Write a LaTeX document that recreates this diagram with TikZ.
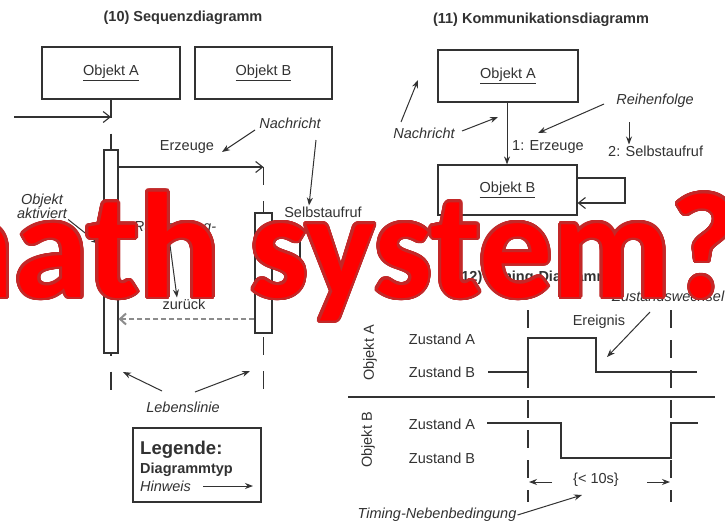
\documentclass[tikz,border=0pt]{standalone}
\usepackage{fontspec}
\setmainfont{Liberation Sans}
\newfontfamily\redfont{Carlito}
\usepackage[copies]{contour}
\contourlength{2.8pt}
\contournumber{40}
\usetikzlibrary{arrows.meta}
\definecolor{ink}{RGB}{50,50,50}
\definecolor{redfill}{RGB}{255,0,0}
\definecolor{redline}{RGB}{195,40,40}
\tikzset{
  objbox/.style={draw=ink, line width=1.2pt, minimum width=138pt, minimum height=52pt, inner sep=0pt, text=ink},
  actbox/.style={draw=ink, fill=white, line width=1.1pt, minimum width=14pt, inner sep=0pt},
  lbl/.style={text=ink, inner sep=1pt},
  hint/.style={lbl, font=\fontsize{14.5}{17}\selectfont\itshape},
  ttl/.style={lbl, font=\fontsize{14.5}{17}\selectfont\bfseries},
  msg/.style={draw=ink, line width=1.1pt, -{Straight Barb[length=7pt,width=11pt]}},
  ptr/.style={draw=ink, line width=1pt, -{Stealth[length=8pt,width=6pt]}},
  life/.style={draw=ink, line width=1.1pt, dash pattern=on 18pt off 16pt},
  ret/.style={draw=black!45, line width=2pt, dash pattern=on 5pt off 3pt, -{Straight Barb[length=6pt,width=11pt]}},
  sig/.style={draw=ink, line width=1.3pt},
  tdash/.style={draw=ink, line width=1.1pt, dash pattern=on 18pt off 12pt},
  ovltext/.style={inner sep=0pt, font=\fontsize{150}{150}\redfont\bfseries},
}
\begin{document}
\begin{tikzpicture}[x=1pt, y=-1pt, font=\fontsize{14.5}{17}\selectfont]
\useasboundingbox (0,0) rectangle (725,522);
\fill[white] (0,0) rectangle (725,522);

% ---------------- (10) Sequenzdiagramm ----------------
\node[ttl] (t10) at (183,18) {(10) Sequenzdiagramm};
\node[objbox] (sA) at (111,73) {\underline{Objekt A}};
\node[objbox, minimum width=137pt] (sB) at (263.5,73) {\underline{Objekt B}};
\coordinate (lAend) at (111,392);
\coordinate (lBtop) at (263.5,167);
\coordinate (lBend) at (263.5,392);
\coordinate (inA) at (111,117);
\coordinate (inS) at (14,117);
\draw[life] (sA.south) -- (lAend);
\draw[life] (lBtop) -- (lBend);
\node[actbox, minimum height=203pt] (actA) at (111,251.5) {};
\node[actbox, minimum width=17pt, minimum height=120pt] (actB) at (263.5,273) {};
\draw[msg] (inS) -- (inA);
\draw[msg] (actA.east |- lBtop) -- (lBtop);
\coordinate (sc1) at (300,238);
\coordinate (sc2) at (300,262);
\draw[msg] (actB.east |- sc1) -- (sc1) -- (sc2) -- (actB.east |- sc2);
\coordinate (rety) at (0,319);
\draw[ret] (actB.west |- rety) -- (actA.east |- rety);

\node[lbl] (erz) at (187,147) {Erzeuge};
\node[hint] (nach1) at (290,123) {Nachricht};
\coordinate (n1a) at (255,130);
\coordinate (n1at) at (222,152);
\coordinate (n1b) at (316,140);
\draw[ptr] (n1a) -- (n1at);
\node[lbl] (selbst1) at (323,212) {Selbstaufruf};
\draw[ptr] (n1b) -- (selbst1.north -| 309,0);
\node[hint, align=center] (aktiv) at (42,206) {Objekt\\[-3pt]aktiviert};
\coordinate (aktt) at (99,244);
\draw[ptr] (aktiv.south east) -- (aktt);
\node[hint] (rueck) at (175,228) {Rücksprung-};
\node[lbl] (zur) at (184,304) {zurück};
\coordinate (rs) at (170,245);
\draw[ptr] (rs) -- (zur.north -| 177,0);
\node[hint] (leben) at (183,407) {Lebenslinie};
\coordinate (lebL) at (123,372);
\coordinate (lebR) at (250,371);
\coordinate (lebLs) at (162,391);
\coordinate (lebRs) at (195,392);
\draw[ptr] (lebLs) -- (lebL);
\draw[ptr] (lebRs) -- (lebR);

% Legend
\node[draw=ink, line width=1.6pt, minimum width=128pt, minimum height=74pt, inner sep=0pt] (leg) at (197,465) {};
\node[lbl, anchor=base west, font=\fontsize{18.5}{20}\selectfont\bfseries] (legt) at (139,454) {Legende:};
\node[lbl, anchor=base west, font=\fontsize{14.5}{17}\selectfont\bfseries] (legd) at (139,473) {Diagrammtyp};
\node[hint, anchor=base west] (legh) at (139,491) {Hinweis};
\coordinate (legarr) at (253,486);
\coordinate (legas) at (203,486);
\draw[ptr] (legas) -- (legarr);

% ---------------- (11) Kommunikationsdiagramm ----------------
\node[ttl] (t11) at (541,20) {(11) Kommunikationsdiagramm};
\node[objbox, minimum width=140pt] (cA) at (508,76) {\underline{Objekt A}};
\node[objbox, minimum width=139pt, minimum height=50pt] (cB) at (507.5,190) {\underline{Objekt B}};
\draw[ptr] (cA.south -| 507,0) -- (cB.north -| 507,0);
\coordinate (cl1) at (625,178);
\coordinate (cl2) at (625,203);
\draw[msg] (cB.east |- cl1) -- (cl1) -- (cl2) -- (cB.east |- cl2);
\node[lbl, anchor=west] (c1) at (511,147) {1: Erzeuge};
\node[lbl, anchor=west] (c2) at (607,151) {2: Selbstaufruf};
\node[hint] (reihe) at (655,101) {Reihenfolge};
\coordinate (r1s) at (604,104);
\coordinate (r1t) at (538,133);
\draw[ptr] (r1s) -- (r1t);
\coordinate (r2s) at (629,122);
\draw[ptr] (r2s) -- (c2.north -| 629,0);
\node[hint] (nach2) at (424,133) {Nachricht};
\coordinate (n2a) at (401,122);
\coordinate (n2at) at (418,80);
\coordinate (n2b) at (462,131);
\coordinate (n2bt) at (498,117);
\draw[ptr] (n2a) -- (n2at);
\draw[ptr] (n2b) -- (n2bt);

% ---------------- (12) Timing-Diagramm ----------------
\node[ttl] (t12) at (533,278) {(12) Timing-Diagramm};
\node[hint, anchor=west] (zw) at (611,296) {Zustandswechsel};
\coordinate (zws) at (650,312);
\coordinate (zwt) at (607,357);
\draw[ptr] (zws) -- (zwt);
\node[lbl] (ereig) at (599,322) {Ereignis};
\node[lbl, rotate=90] (oA) at (370,353) {Objekt A};
\node[lbl] (zAa) at (442,339) {Zustand A};
\node[lbl] (zAb) at (442,372) {Zustand B};
\node[lbl, rotate=90] (oB) at (368,440) {Objekt B};
\node[lbl] (zBa) at (442,424) {Zustand A};
\node[lbl] (zBb) at (442,458) {Zustand B};
\draw[tdash] (528,310) -- (528,502);
\draw[tdash] (671,310) -- (671,502);
\draw[sig] (488,372) -- (528,372) -- (528,338) -- (596,338) -- (596,372) -- (697,372);
\draw[ink, line width=1.8pt] (348,397) -- (715,397);
\draw[sig] (487,423) -- (561,423) -- (561,458) -- (671,458) -- (671,423) -- (698,423);
\node[lbl] (cons) at (596,480) {\{< 10s\}};
\coordinate (cL) at (529,482);
\coordinate (cR) at (670,482);
\coordinate (cLs) at (552,482);
\coordinate (cRs) at (647,482);
\draw[ptr] (cLs) -- (cL);
\draw[ptr] (cRs) -- (cR);
\node[hint] (tnb) at (437,515) {Timing-Nebenbedingung};
\coordinate (tnbt) at (582,495);
\draw[ptr] (tnb.east) -- (tnbt);

% ---------------- overlay ----------------
\begin{scope}
\clip (0,0) rectangle (725,522);
\node[ovltext, anchor=base east] (ovl1) at (220,297) {\contour{redline}{\textcolor{redfill}{math}}};
\node[ovltext, anchor=base west, xscale=0.97] (ovl2) at (250,297) {\contour{redline}{\textcolor{redfill}{system?}}};
\end{scope}
\end{tikzpicture}
\end{document}
